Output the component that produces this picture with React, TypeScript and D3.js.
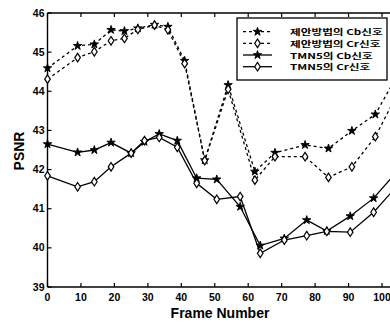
import React from "react";
import * as d3 from "d3";

// Frame numbers (x) for each group of series
const framesProposed = [0, 9, 14, 19, 23, 27, 32, 36, 41, 47, 54, 62, 68, 77, 84, 91, 98, 105];
const framesTmn5 = [0, 9, 14, 19, 25, 29, 33.4, 38.8, 44.6, 50.6, 57.6, 63.6, 70.8, 77.5, 83.5, 90.5, 97.5, 105];

// PSNR values
const proposedCb = [44.59, 45.16, 45.2, 45.57, 45.54, 45.61, 45.7, 45.65, 44.78, 42.24, 44.16, 41.95, 42.43, 42.63, 42.54, 42.99, 43.41, 44.47];
const proposedCr = [44.31, 44.86, 45.01, 45.29, 45.35, 45.58, 45.69, 45.57, 44.71, 42.23, 44.05, 41.73, 42.33, 42.33, 41.8, 42.07, 42.84, 44.0];
const tmn5Cb = [42.65, 42.44, 42.5, 42.69, 42.42, 42.71, 42.91, 42.74, 41.78, 41.75, 41.05, 40.06, 40.24, 40.71, 40.43, 40.81, 41.27, 42.0];
const tmn5Cr = [41.84, 41.56, 41.69, 42.07, 42.42, 42.74, 42.82, 42.57, 41.65, 41.24, 41.31, 39.86, 40.2, 40.31, 40.42, 40.4, 40.91, 41.63];

const xTicks = [0, 10, 20, 30, 40, 50, 60, 70, 80, 90, 100];
const yTicks = [39, 40, 41, 42, 43, 44, 45, 46];

const legendLabels = ["제안방법의 Cb신호", "제안방법의 Cr신호", "TMN5의 Cb신호", "TMN5의 Cr신호"];

const W = 390;
const H = 322;

const x = d3.scaleLinear().domain([0, 100]).range([47.5, 382]);
const y = d3.scaleLinear().domain([39, 46]).range([287, 13]);

const starPath = d3.symbol().type(d3.symbolStar).size(22)() as string;
const diamondPath = "M0,-4.3L2.8,0L0,4.3L-2.8,0Z";

type Series = { xs: number[]; ys: number[]; dashed: boolean; marker: "star" | "diamond" };

const series: Series[] = [
  { xs: framesProposed, ys: proposedCb, dashed: true, marker: "star" },
  { xs: framesProposed, ys: proposedCr, dashed: true, marker: "diamond" },
  { xs: framesTmn5, ys: tmn5Cb, dashed: false, marker: "star" },
  { xs: framesTmn5, ys: tmn5Cr, dashed: false, marker: "diamond" },
];

function Marker({ kind, cx, cy }: { kind: "star" | "diamond"; cx: number; cy: number }) {
  if (kind === "star") {
    return <path d={starPath} transform={`translate(${cx},${cy})`} fill="#000" stroke="#000" strokeWidth={0.9} />;
  }
  return <path d={diamondPath} transform={`translate(${cx},${cy})`} fill="#fff" stroke="#000" strokeWidth={1.2} />;
}

export default function App() {
  const line = d3
    .line<[number, number]>()
    .x((d) => x(d[0]))
    .y((d) => y(d[1]));

  const font = "'Liberation Sans', Arial, sans-serif";
  const legendRows = [31.7, 43.3, 55, 66.7];

  return (
    <svg width={W} height={H} style={{ position: "absolute", left: 0, top: 0, background: "#fff" }}>
      <rect x={0} y={0} width={W} height={H} fill="#fff" />
      {/* axes frame */}
      <line x1={x(0)} x2={x(0)} y1={y(46)} y2={y(39)} stroke="#000" strokeWidth={1.4} />
      <line x1={x(0)} x2={W + 5} y1={y(39)} y2={y(39)} stroke="#000" strokeWidth={1.4} />
      <line x1={x(0)} x2={W + 5} y1={y(46)} y2={y(46)} stroke="#000" strokeWidth={1.4} />
      {/* x ticks */}
      {xTicks.map((t) => (
        <g key={"xt" + t}>
          <line x1={x(t)} x2={x(t)} y1={y(39)} y2={y(39) - 4} stroke="#000" strokeWidth={1.2} />
          <line x1={x(t)} x2={x(t)} y1={y(46)} y2={y(46) + 4} stroke="#000" strokeWidth={1.2} />
          <text
            x={x(t)}
            y={y(39) + 14}
            textAnchor="middle"
            fontFamily={font}
            fontWeight="bold"
            fontSize={10.5}
            fill="#000"
          >
            {t}
          </text>
        </g>
      ))}
      {/* y ticks */}
      {yTicks.map((t) => (
        <g key={"yt" + t}>
          <line x1={x(0)} x2={x(0) + 4} y1={y(t)} y2={y(t)} stroke="#000" strokeWidth={1.2} />
          <text
            x={x(0) - 3}
            y={y(t) + 3.5}
            textAnchor="end"
            fontFamily={font}
            fontWeight="bold"
            fontSize={10.5}
            fill="#000"
          >
            {t}
          </text>
        </g>
      ))}
      {/* axis labels */}
      <text x={220} y={318} textAnchor="middle" fontFamily={font} fontWeight="bold" fontSize={14} fill="#000">
        Frame Number
      </text>
      <text
        transform="translate(24,151) rotate(-90)"
        textAnchor="middle"
        fontFamily={font}
        fontWeight="bold"
        fontSize={14}
        fill="#000"
      >
        PSNR
      </text>
      {/* series */}
      {series.map((s, i) => {
        const pts = s.xs.map((xv, j) => [xv, s.ys[j]] as [number, number]);
        return (
          <g key={"s" + i}>
            <path
              d={line(pts) as string}
              fill="none"
              stroke="#000"
              strokeWidth={1.3}
              strokeDasharray={s.dashed ? "3,3" : undefined}
            />
            {pts.map((p, j) => (
              <Marker key={j} kind={s.marker} cx={x(p[0])} cy={y(p[1])} />
            ))}
          </g>
        );
      })}
      {/* legend */}
      <rect x={237} y={18} width={150} height={62} fill="#fff" stroke="#000" strokeWidth={1.3} />
      {legendLabels.map((lab, i) => (
        <g key={"lg" + i}>
          <line
            x1={243}
            x2={272}
            y1={legendRows[i]}
            y2={legendRows[i]}
            stroke="#000"
            strokeWidth={1.3}
            strokeDasharray={series[i].dashed ? "3,3" : undefined}
          />
          <Marker kind={series[i].marker} cx={257.5} cy={legendRows[i]} />
          <text
            transform={`translate(290,${legendRows[i] + 3.5}) scale(1.06,0.72)`}
            fontFamily="'Noto Sans CJK KR', 'Noto Sans', sans-serif"
            fontWeight="bold"
            fontSize={11}
            fill="#000"
          >
            {lab}
          </text>
        </g>
      ))}
    </svg>
  );
}
